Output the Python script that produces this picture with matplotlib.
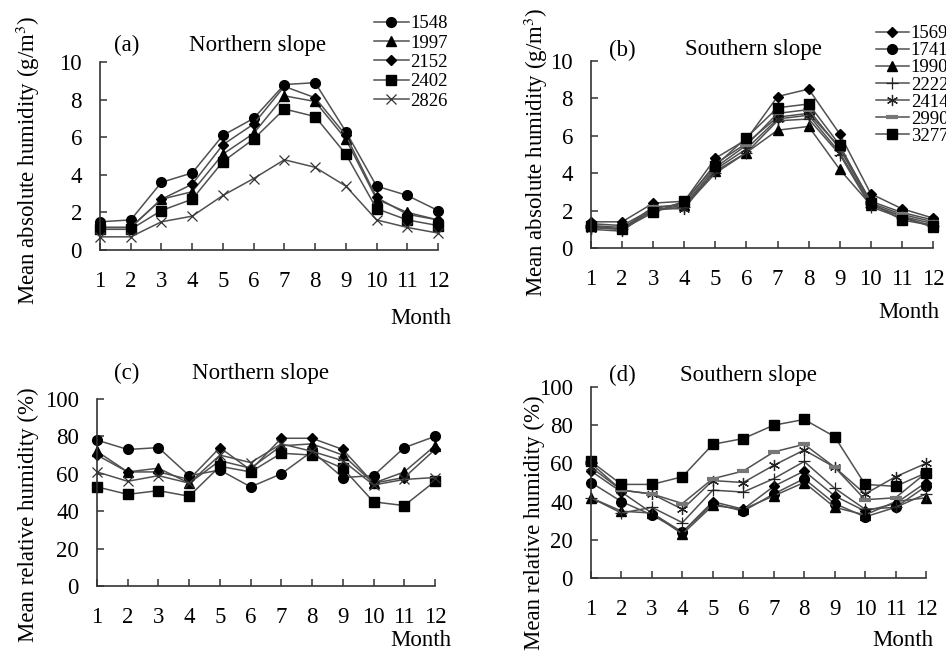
import matplotlib
matplotlib.use("Agg")
import matplotlib.pyplot as plt
import numpy as np

plt.rcParams['font.family'] = ['Liberation Serif', 'DejaVu Serif']
plt.rcParams['mathtext.fontset'] = 'stix'

months = list(range(1, 13))
month_labels = [str(m) for m in months]

# (a) Northern slope, absolute humidity
north_names = ["1548", "1997", "2152", "2402", "2826"]
a_1548 = [1.5, 1.6, 3.6, 4.1, 6.1, 7.0, 8.8, 8.9, 6.3, 3.4, 2.9, 2.1]
a_1997 = [1.2, 1.2, 2.7, 3.1, 5.1, 6.2, 8.2, 7.9, 5.9, 2.7, 2.0, 1.6]
a_2152 = [1.2, 1.2, 2.7, 3.5, 5.6, 6.7, 8.7, 8.1, 6.1, 2.8, 1.9, 1.6]
a_2402 = [1.1, 1.1, 2.1, 2.7, 4.7, 5.9, 7.5, 7.1, 5.1, 2.2, 1.6, 1.3]
a_2826 = [0.7, 0.7, 1.5, 1.8, 2.9, 3.8, 4.8, 4.4, 3.4, 1.6, 1.2, 0.9]

# (b) Southern slope, absolute humidity
south_names = ["1569", "1741", "1990", "2222", "2414", "2990", "3277"]
b_1569 = [1.4, 1.4, 2.4, 2.5, 4.8, 5.8, 8.1, 8.5, 6.1, 2.9, 2.1, 1.6]
b_1741 = [1.3, 1.2, 2.1, 2.4, 4.5, 5.6, 7.0, 7.2, 5.4, 2.5, 1.9, 1.5]
b_1990 = [1.2, 1.1, 2.0, 2.3, 4.1, 5.1, 6.3, 6.5, 4.2, 2.3, 1.7, 1.1]
b_2222 = [1.1, 1.0, 2.0, 2.2, 4.0, 5.1, 6.8, 6.9, 5.0, 2.2, 1.6, 1.2]
b_2414 = [1.0, 0.9, 2.1, 2.1, 4.2, 5.3, 6.9, 7.1, 5.1, 2.3, 1.7, 1.3]
b_2990 = [1.1, 1.0, 2.2, 2.3, 4.3, 5.5, 7.2, 7.4, 5.3, 2.4, 1.8, 1.4]
b_3277 = [1.2, 1.0, 1.9, 2.5, 4.4, 5.9, 7.5, 7.7, 5.5, 2.4, 1.5, 1.2]

# (c) Northern slope, relative humidity
c_1548 = [78, 73, 74, 59, 62, 53, 60, 72, 58, 59, 74, 80]
c_1997 = [72, 61, 63, 55, 67, 63, 75, 76, 70, 55, 61, 75]
c_2152 = [70, 61, 61, 57, 74, 62, 79, 79, 73, 55, 58, 73]
c_2402 = [53, 49, 51, 48, 64, 61, 71, 70, 63, 45, 43, 56]
c_2826 = [61, 56, 59, 55, 70, 66, 76, 72, 67, 54, 57, 58]

# (d) Southern slope, relative humidity
d_1569 = [56, 45, 34, 24, 40, 36, 48, 56, 43, 35, 39, 50]
d_1741 = [50, 40, 33, 24, 39, 35, 44, 52, 39, 32, 37, 48]
d_1990 = [42, 35, 34, 23, 38, 36, 43, 50, 37, 33, 40, 42]
d_2222 = [42, 34, 37, 29, 46, 45, 52, 61, 47, 36, 37, 44]
d_2414 = [58, 46, 44, 36, 51, 50, 59, 67, 58, 44, 53, 60]
d_2990 = [60, 46, 44, 39, 52, 56, 66, 70, 58, 41, 42, 55]
d_3277 = [61, 49, 49, 53, 70, 73, 80, 83, 74, 49, 48, 55]

W, H = 946, 652
fig = plt.figure(figsize=(W / 100, H / 100), dpi=100)


def px_axes(l, r, t, b):
    return fig.add_axes([l / W, 1 - b / H, (r - l) / W, (b - t) / H])


def ftext(x, y, s, **kw):
    fig.text(x / W, 1 - y / H, s, **kw)


LINE = '#505050'
north_styles = [
    dict(marker='o', ms=7, mfc='k', mec='k'),
    dict(marker='^', ms=7, mfc='k', mec='k'),
    dict(marker='D', ms=5, mfc='k', mec='k'),
    dict(marker='s', ms=7, mfc='k', mec='k'),
    dict(marker='x', ms=7, mfc='none', mec='#333333', mew=0.9),
]
south_styles = [
    dict(marker='D', ms=5, mfc='k', mec='k'),
    dict(marker='o', ms=7, mfc='k', mec='k'),
    dict(marker='^', ms=7, mfc='k', mec='k'),
    dict(marker='+', ms=9, mfc='k', mec='#222222', mew=0.9),
    dict(marker=(6, 2, 0), ms=8, mfc='none', mec='#222222', mew=0.9),
    dict(marker='_', ms=8, mfc='none', mec='#777777', mew=3),
    dict(marker='s', ms=7, mfc='k', mec='k'),
]


def style_axes(ax, ymax, ystep):
    ax.set_xlim(1, 12)
    ax.set_ylim(0, ymax)
    ax.set_xticks(months)
    ax.set_xticklabels(month_labels)
    ax.set_yticks(np.arange(0, ymax + 0.01, ystep))
    for s in ['top', 'right']:
        ax.spines[s].set_visible(False)
    for s in ['left', 'bottom']:
        ax.spines[s].set_color('#333333')
        ax.spines[s].set_linewidth(1.2)
    ax.tick_params(axis='both', direction='in', length=5, width=1.1,
                   color='#333333', labelsize=16.5, pad=15)
    ax.tick_params(axis='y', pad=13)
    ax.set_facecolor('none')


def draw(ax, series, names, styles):
    handles = []
    for vals, name, st in zip(series, names, styles):
        h, = ax.plot(months, vals, color=LINE, lw=1.1, label=name,
                     clip_on=False, **st)
        handles.append(h)
    return handles


# (a)
axa = px_axes(100, 438, 62, 250)
ha = draw(axa, [a_1548, a_1997, a_2152, a_2402, a_2826], north_names, north_styles)
style_axes(axa, 10, 2)
fig.legend(ha, north_names, loc='upper left', bbox_to_anchor=(374 / W, 1 - 15 / H),
           frameon=False, fontsize=13.5, handlelength=1.85, handletextpad=0.1,
           labelspacing=0.12, borderaxespad=0, borderpad=0)

# (b)
axb = px_axes(591, 933, 61, 248)
hb = draw(axb, [b_1569, b_1741, b_1990, b_2222, b_2414, b_2990, b_3277],
          south_names, south_styles)
style_axes(axb, 10, 2)
fig.legend(hb, south_names, loc='upper left', bbox_to_anchor=(876 / W, 1 - 25 / H),
           frameon=False, fontsize=13.5, handlelength=1.75, handletextpad=0.1,
           labelspacing=0.0, borderaxespad=0, borderpad=0)

# (c)
axc = px_axes(97, 435, 399, 586)
draw(axc, [c_1548, c_1997, c_2152, c_2402, c_2826], north_names, north_styles)
style_axes(axc, 100, 20)

# (d)
axd = px_axes(591, 926, 387, 578)
draw(axd, [d_1569, d_1741, d_1990, d_2222, d_2414, d_2990, d_3277],
     south_names, south_styles)
style_axes(axd, 100, 20)

fs = 16.5
# panel titles
ftext(127, 45, "(a)", fontsize=fs, ha='center', va='center')
ftext(257, 45, "Northern slope", fontsize=fs, ha='center', va='center')
ftext(622, 50, "(b)", fontsize=fs, ha='center', va='center')
ftext(753, 50, "Southern slope", fontsize=fs, ha='center', va='center')
ftext(127, 373, "(c)", fontsize=fs, ha='center', va='center')
ftext(260, 373, "Northern slope", fontsize=fs, ha='center', va='center')
ftext(622, 375, "(d)", fontsize=fs, ha='center', va='center')
ftext(748, 375, "Southern slope", fontsize=fs, ha='center', va='center')

# axis labels
ftext(28, 160, "Mean absolute humidity (g/m$^3$)", fontsize=fs, rotation=90,
      ha='center', va='center')
ftext(536, 152, "Mean absolute humidity (g/m$^3$)", fontsize=fs, rotation=90,
      ha='center', va='center')
ftext(28, 515, "Mean relative humidity (%)", fontsize=fs, rotation=90,
      ha='center', va='center')
ftext(534, 523, "Mean relative humidity (%)", fontsize=fs, rotation=90,
      ha='center', va='center')

ftext(421, 318, "Month", fontsize=fs, ha='center', va='center')
ftext(909, 312, "Month", fontsize=fs, ha='center', va='center')
ftext(421, 640, "Month", fontsize=fs, ha='center', va='center')
ftext(903, 640, "Month", fontsize=fs, ha='center', va='center')

fig.savefig("out.png", dpi=100)
